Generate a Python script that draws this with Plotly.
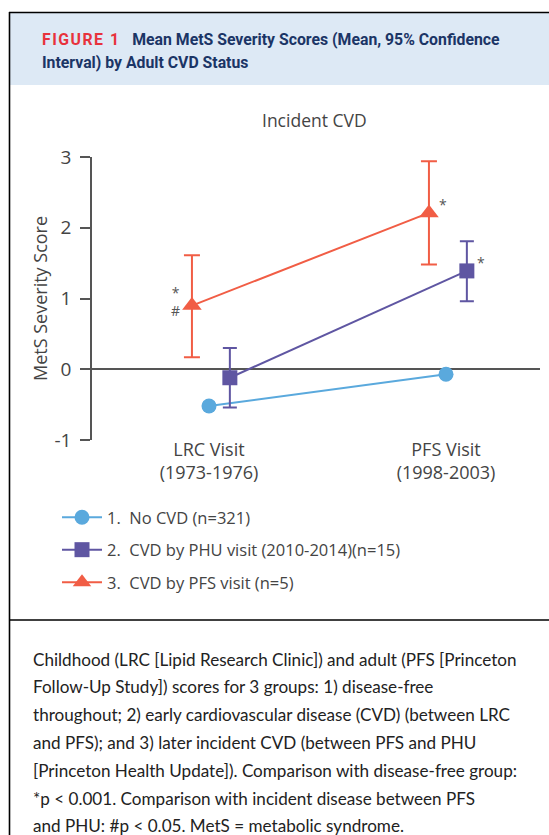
import plotly.graph_objects as go

W, H = 549, 835

# ---------------- data ----------------
categories = ["LRC Visit<br>(1973-1976)", "PFS Visit<br>(1998-2003)"]
series_names = ["1.  No CVD (n=321)",
                "2.  CVD by PHU visit (2010-2014)(n=15)",
                "3.  CVD by PFS visit (n=5)"]
no_cvd_mean = [-0.52, -0.07]
no_cvd_lo = [-0.57, -0.12]
no_cvd_hi = [-0.47, -0.02]
phu_mean = [-0.12, 1.39]
phu_lo = [-0.54, 0.96]
phu_hi = [0.30, 1.81]
pfs_mean = [0.90, 2.21]
pfs_lo = [0.17, 1.48]
pfs_hi = [1.61, 2.94]
y_ticks = [-1, 0, 1, 2, 3]
# significance marks: (category index, series index, text, side)
sig_marks = [(0, 2, "*<br>#", "left"), (1, 2, "*", "right"), (1, 1, "*", "right")]

caption_lines = [
    "Childhood (LRC [Lipid Research Clinic]) and adult (PFS [Princeton",
    "Follow-Up Study]) scores for 3 groups: 1) disease-free",
    "throughout; 2) early cardiovascular disease (CVD) (between LRC",
    "and PFS); and 3) later incident CVD (between PFS and PHU",
    "[Princeton Health Update]). Comparison with disease-free group:",
    "*p &lt; 0.001. Comparison with incident disease between PFS",
    "and PHU: #p &lt; 0.05. MetS = metabolic syndrome.",
]

# ---------------- style ----------------
colors = ["#5aa9dd", "#5f56a2", "#f15d45"]
symbols = ["circle", "square", "triangle-up"]
offsets = [0.0, 0.088, -0.072]
msize = [15, 15, 17]
capw = [6, 7, 8]
CF = "Open Sans"
TXT = "#444444"

def px_x(p):
    return p / W

def px_y(p):
    return 1 - p / H

fig = go.Figure()
means = [no_cvd_mean, phu_mean, pfs_mean]
los = [no_cvd_lo, phu_lo, pfs_lo]
his = [no_cvd_hi, phu_hi, pfs_hi]
for i in range(3):
    xs = [k + offsets[i] for k in range(len(categories))]
    fig.add_trace(go.Scatter(
        x=xs, y=means[i], mode="lines+markers", name=series_names[i],
        legendgroup=str(i),
        line=dict(color=colors[i], width=2),
        marker=dict(color=colors[i], symbol=symbols[i], size=msize[i]),
        error_y=dict(type="data", symmetric=False,
                     array=[h - m for h, m in zip(his[i], means[i])],
                     arrayminus=[m - l for m, l in zip(means[i], los[i])],
                     color=colors[i], thickness=2, width=capw[i]),
        hoverinfo="skip",
    ))

for (ci, si, txt, side) in sig_marks:
    fig.add_annotation(
        x=ci + offsets[si], y=means[si][ci], text=txt, showarrow=False,
        xref="x", yref="y", yanchor="middle",
        xanchor="right" if side == "left" else "left",
        xshift=-10 if side == "left" else 8,
        yshift=8 if side == "right" else 4,
        font=dict(family=CF, size=14, color="#555555"),
    )

x0, x1 = 92, 540
y_top, y_bot = 157, 440
span = 446 - 209
fig.update_layout(
    width=W, height=H,
    margin=dict(l=0, r=0, t=0, b=0, autoexpand=False),
    paper_bgcolor="white", plot_bgcolor="white",
    showlegend=True,
    legend=dict(x=px_x(57), y=px_y(500), xanchor="left", yanchor="top",
                font=dict(family=CF, size=16.5, color=TXT),
                itemwidth=40,
                tracegroupgap=8, bgcolor="rgba(0,0,0,0)"),
    xaxis=dict(domain=[px_x(x0), px_x(x1)],
               range=[0 - (209 - x0) / span, 1 + (x1 - 446) / span],
               tickvals=list(range(len(categories))), ticktext=categories,
               showline=False, showgrid=False, zeroline=False, ticks="",
               automargin=False,
               tickfont=dict(family=CF, size=18, color=TXT),
               ticklabelstandoff=-3),
    yaxis=dict(domain=[px_y(y_bot), px_y(y_top)], range=[-1, 3],
               tickvals=y_ticks, ticktext=[str(v) for v in y_ticks],
               showline=True, linecolor="#555555", linewidth=1.5,
               ticks="outside", ticklen=10, tickcolor="#555555", tickwidth=1.5,
               showgrid=False, zeroline=True, zerolinecolor="#555555",
               zerolinewidth=1.5, automargin=False,
               tickfont=dict(family=CF, size=19, color=TXT),
               ticklabelstandoff=5,
               title=dict(text="MetS Severity Score", standoff=2,
                          font=dict(family=CF, size=18, color=TXT))),
)

# chart title
fig.add_annotation(x=px_x(314), y=px_y(120), xref="paper", yref="paper",
                   xanchor="center", yanchor="middle",
                   text="Incident CVD", showarrow=False,
                   font=dict(family=CF, size=17.5, color=TXT))

# frame, header band and divider
fig.add_shape(type="rect", xref="paper", yref="paper",
              x0=px_x(10), x1=1, y0=px_y(85), y1=px_y(13),
              fillcolor="#dde9f5", line=dict(width=0), layer="below")
fig.add_shape(type="line", xref="paper", yref="paper",
              x0=px_x(9), x1=1, y0=px_y(12.5), y1=px_y(12.5),
              line=dict(color="black", width=1.6))
fig.add_shape(type="line", xref="paper", yref="paper",
              x0=px_x(9.5), x1=px_x(9.5), y0=px_y(12), y1=0,
              line=dict(color="black", width=1.6))
fig.add_shape(type="line", xref="paper", yref="paper",
              x0=px_x(9), x1=1, y0=px_y(620), y1=px_y(620),
              line=dict(color="black", width=1.6))

# header title
TF = "Roboto"
fig.add_annotation(
    x=px_x(40), y=px_y(39), xref="paper", yref="paper", xanchor="left",
    yanchor="middle", showarrow=False,
    text=("<span style='color:#e8323c;letter-spacing:1.5px'><b>FIGURE 1</b></span>"
          "   <b>Mean MetS Severity Scores (Mean, 95% Confidence</b>"),
    font=dict(family=TF, size=15.8, color="#1b3566"))
fig.add_annotation(
    x=px_x(40), y=px_y(63), xref="paper", yref="paper", xanchor="left",
    yanchor="middle", showarrow=False, text="<b>Interval) by Adult CVD Status</b>",
    font=dict(family=TF, size=15.8, color="#1b3566"))

# caption
for k, line in enumerate(caption_lines):
    fig.add_annotation(
        x=px_x(31), y=px_y(659 + k * 27.8), xref="paper", yref="paper",
        xanchor="left", yanchor="middle", showarrow=False, text=line,
        font=dict(family="Lato", size=17.1, color="#222222"))

fig.write_html("out.html", config={"displayModeBar": False},
               post_script="document.body.style.margin='0';document.body.style.overflow='hidden';")
